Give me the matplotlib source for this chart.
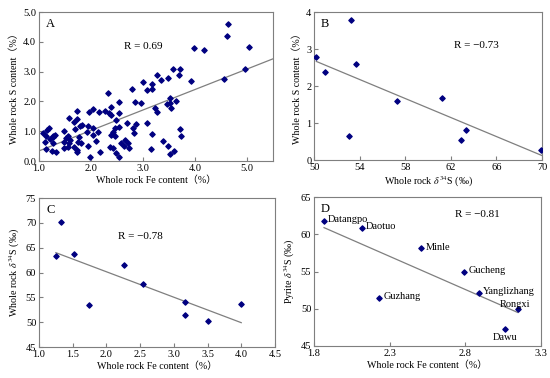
import numpy as np
import matplotlib
matplotlib.use("Agg")
import matplotlib.pyplot as plt

plt.rcParams['font.family'] = ['Liberation Serif', 'Noto Sans CJK SC']
plt.rcParams['mathtext.fontset'] = 'stix'

# panel A: whole rock Fe vs S
feA = [4.63, 4.62, 5.04, 3.99, 4.17, 4.96, 4.55, 3.92, 3.58, 3.71, 3.69, 3.27, 3.35, 3.49,
       3.00, 3.17, 3.07, 3.17, 2.78, 2.33, 3.51, 3.64, 3.52, 3.47, 3.54, 3.23, 3.26, 2.84,
       2.97, 2.53, 2.39, 2.35, 2.39, 2.53, 2.26, 2.15, 2.04, 1.96, 1.74, 1.58, 1.74, 1.67,
       2.49, 2.53, 2.46, 2.69, 2.87, 3.08, 2.81, 2.82, 3.71, 3.74, 3.17, 3.38, 3.49, 3.59,
       3.51, 3.16, 2.42, 2.46, 2.39, 2.65, 2.63, 2.71, 2.74, 2.57, 2.49, 2.54, 2.36, 2.42,
       2.17, 1.99, 2.13, 2.04, 1.95, 2.03, 1.92, 1.94, 2.10, 1.83, 1.78, 1.76, 1.81, 1.75,
       1.69, 1.74, 1.74, 1.67, 1.59, 1.56, 1.52, 1.49, 1.49, 1.56, 1.48, 1.58, 1.08, 1.14,
       1.16, 1.19, 1.12, 1.21, 1.26, 1.30, 1.27, 1.14, 1.25, 1.33, 1.27]
sA = [4.60, 4.20, 3.82, 3.79, 3.74, 3.09, 2.77, 2.70, 3.08, 3.08, 2.89, 2.89, 2.72, 2.79,
      2.66, 2.57, 2.37, 2.41, 2.41, 2.30, 2.11, 2.03, 1.94, 1.91, 1.77, 1.77, 1.66, 1.97,
      1.96, 1.98, 1.83, 1.60, 1.55, 1.60, 1.68, 1.66, 1.75, 1.66, 1.68, 1.46, 1.41, 1.30,
      1.38, 1.15, 1.12, 1.27, 1.24, 1.27, 1.12, 0.95, 1.08, 0.84, 0.91, 0.66, 0.52, 0.34,
      0.22, 0.40, 0.99, 0.84, 0.87, 0.71, 0.50, 0.59, 0.44, 0.59, 0.26, 0.12, 0.46, 0.43,
      0.31, 0.12, 0.99, 1.10, 1.19, 0.89, 0.99, 0.52, 0.66, 1.21, 1.18, 0.80, 0.62, 0.65,
      1.08, 0.37, 0.31, 0.48, 0.71, 0.85, 0.78, 1.02, 0.65, 0.48, 0.45, 0.59, 0.95, 0.84,
      1.04, 1.10, 0.65, 0.74, 0.84, 0.87, 0.59, 0.40, 0.34, 0.29, 0.82]
fitA = (0.687, -0.347)

# panel B: whole rock d34S vs S
d34B = [50.2, 51.0, 53.2, 53.65, 53.1, 57.3, 61.2, 62.9, 63.3, 69.95]
sB = [2.78, 2.39, 3.78, 2.59, 0.65, 1.60, 1.68, 0.54, 0.80, 0.26]
fitB = (-0.1285, 9.115)

# panel C: whole rock Fe vs d34S
feC = [1.25, 1.33, 1.52, 1.74, 2.26, 2.54, 3.17, 3.17, 3.51, 3.99]
d34C = [63.3, 70.2, 63.7, 53.5, 61.5, 57.7, 54.1, 51.4, 50.3, 53.6]
fitC = (-5.127, 70.41)

# panel D: deposits, Fe vs pyrite d34S
sites = ['Datangpo', 'Daotuo', 'Minle', 'Gucheng', 'Yanglizhang', 'Rongxi', 'Dawu', 'Guzhang']
feD = [1.866, 2.114, 2.51, 2.794, 2.887, 3.147, 3.064, 2.229]
d34D = [61.8, 60.8, 58.1, 55.0, 52.1, 50.0, 47.3, 51.5]
fitD = (-8.9, 77.5)

navy = '#000080'
grey = '#7f7f7f'
fs = 7.5
lfs = 7.2

fig = plt.figure(figsize=(5.5, 3.78), dpi=100)
axA = fig.add_axes([0.0709, 0.574, 0.4255, 0.394])
axB = fig.add_axes([0.571, 0.5767, 0.4145, 0.3915])
axC = fig.add_axes([0.0709, 0.082, 0.429, 0.394])
axD = fig.add_axes([0.571, 0.0847, 0.4127, 0.394])


def style(ax, letter):
    for sp in ax.spines.values():
        sp.set_color(grey)
        sp.set_linewidth(0.8)
    ax.tick_params(direction='in', length=3, color=grey, labelsize=fs, pad=2)
    ax.text(0.03, 0.96, letter, transform=ax.transAxes, ha='left', va='top', fontsize=9)


def fitline(ax, fit, x0, x1):
    xs = np.array([x0, x1])
    ax.plot(xs, fit[0] * xs + fit[1], color=grey, lw=0.9)


# A
axA.scatter(feA, sA, marker='D', s=7, color=navy, zorder=3)
fitline(axA, fitA, 1.0, 5.5)
axA.set_xlim(1.0, 5.5)
axA.set_ylim(0, 5.0)
axA.set_xticks([1.0, 2.0, 3.0, 4.0, 5.0])
axA.set_yticks([0, 1, 2, 3, 4, 5])
axA.xaxis.set_major_formatter('{x:.1f}')
axA.yaxis.set_major_formatter('{x:.1f}')
axA.text(3.0, 3.85, 'R = 0.69', ha='center', va='center', fontsize=8)
axA.set_xlabel('Whole rock Fe content（%）', fontsize=lfs, labelpad=2)
axA.set_ylabel('Whole rock S content（%）', fontsize=lfs, labelpad=3)
style(axA, 'A')

# B
axB.scatter(d34B, sB, marker='D', s=7, color=navy, zorder=3)
fitline(axB, fitB, 50.2, 70)
axB.set_xlim(50, 70)
axB.set_ylim(0, 4)
axB.set_xticks([50, 54, 58, 62, 66, 70])
axB.set_yticks([0, 1, 2, 3, 4])
axB.text(64.2, 3.1, 'R = −0.73', ha='center', va='center', fontsize=8)
axB.set_xlabel(r'Whole rock $\delta^{34}$S (‰)', fontsize=lfs, labelpad=2)
axB.set_ylabel('Whole rock S content（%）', fontsize=lfs, labelpad=3)
style(axB, 'B')

# C
axC.scatter(feC, d34C, marker='D', s=7, color=navy, zorder=3)
fitline(axC, fitC, 1.25, 4.0)
axC.set_xlim(1.0, 4.5)
axC.set_ylim(45, 75)
axC.set_xticks(np.arange(1.0, 4.51, 0.5))
axC.set_yticks([45, 50, 55, 60, 65, 70, 75])
axC.xaxis.set_major_formatter('{x:.1f}')
axC.text(2.5, 67.3, 'R = −0.78', ha='center', va='center', fontsize=8)
axC.set_xlabel('Whole rock Fe content（%）', fontsize=lfs, labelpad=2)
axC.set_ylabel(r'Whole rock $\delta^{34}$S (‰)', fontsize=lfs, labelpad=3)
style(axC, 'C')

# D
axD.scatter(feD, d34D, marker='D', s=7, color=navy, zorder=3)
fitline(axD, fitD, 1.866, 3.147)
axD.set_xlim(1.8, 3.3)
axD.set_ylim(45, 65)
axD.set_xticks([1.8, 2.3, 2.8, 3.3])
axD.set_yticks([45, 50, 55, 60, 65])
for name, x, y in zip(sites, feD, d34D):
    if name == 'Rongxi':
        axD.annotate(name, (x, y), xytext=(-2, 3), textcoords='offset points',
                     ha='center', va='center', fontsize=7.5)
    elif name == 'Dawu':
        axD.annotate(name, (x, y), xytext=(0, -3), textcoords='offset points',
                     ha='center', va='top', fontsize=7.5)
    else:
        axD.annotate(name, (x, y), xytext=(3, 1), textcoords='offset points',
                     ha='left', va='center', fontsize=7.5)
axD.text(2.88, 62.6, 'R = −0.81', ha='center', va='center', fontsize=8)
axD.set_xlabel('Whole rock Fe content（%）', fontsize=lfs, labelpad=2)
axD.set_ylabel(r'Pyrite $\delta^{34}$S (‰)', fontsize=lfs, labelpad=3)
style(axD, 'D')

fig.savefig('out.png', dpi=100)
